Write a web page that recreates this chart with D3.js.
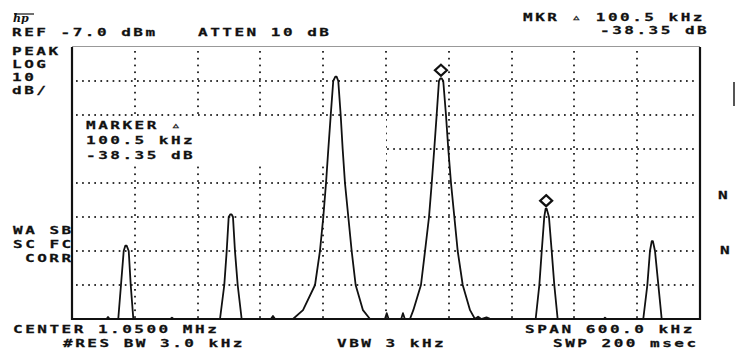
<!DOCTYPE html>
<html lang="en">
  <head>
    <meta charset="UTF-8" />
    <script src="https://cdnjs.cloudflare.com/ajax/libs/d3/7.8.5/d3.min.js"></script>
    <title>Spectrum</title>
    <style>
      body { margin: 0; background: #fff; }
      svg { display: block; }
      .lbl { font-family: 'DejaVu Sans Mono', monospace; font-weight: bold; font-size: 11.3px; fill: #111; stroke: #111; stroke-width: 0.25; }
    </style>
  </head>
  <body>
    <svg width="736" height="352" class="svg"></svg>
    <script>
      // analyser settings
      const refLevel = -7.0;       // dBm
      const dbPerDiv = 10;
      const centerKHz = 1050;
      const spanKHz = 600;
      const rbwKHz = 3.0;
      const vbwKHz = 3;
      const sweepMs = 200;
      const attenDb = 10;
      const markerDeltaKHz = 100.5;
      const markerDeltaDb = -38.35;

      // graticule lines
      const freqTicks = [750, 810, 870, 930, 990, 1050, 1110, 1170, 1230, 1290, 1350];
      const levelTicks = [-7, -17, -27, -37, -47, -57, -67, -77, -87];

      // marker positions [kHz, dBm]
      const markers = [[1102.5, -16.2], [1203.0, -54.55]];

      // trace [kHz, dBm]
      const trace = [
        [750, -87], [783, -87], [784.4, -86.4], [786, -87],
        [794.2, -87], [796.8, -77], [799.4, -67], [801.0, -65.4], [802.2, -65.4], [804.2, -67], [806.1, -77], [808.6, -87],
        [844, -87], [845.5, -86.6], [847, -87],
        [891.4, -87], [895.5, -77], [897.8, -67], [899.7, -57], [901.3, -56.2], [902.5, -56.2], [903.8, -57], [905.7, -67], [908.3, -77], [912.1, -87],
        [940, -87], [942, -86.1], [944, -87],
        [961.1, -87], [970.7, -84.4], [982.2, -77], [986.9, -67], [990.1, -57], [992.7, -47], [994.9, -37], [997.2, -27], [999.6, -17],
        [1001.6, -15.7], [1002.8, -15.7], [1004.4, -17], [1006.7, -27], [1008.6, -37], [1010.8, -47], [1014.0, -57], [1017.2, -67], [1021.0, -77], [1028.0, -84.4], [1034.7, -87],
        [1049, -87], [1050.7, -85.3], [1052.5, -87],
        [1064.5, -87], [1066.2, -85.3], [1068, -87],
        [1072.9, -87], [1076.1, -84.4], [1083.4, -77], [1087.3, -67], [1091.1, -57], [1093.7, -47], [1096.1, -37], [1098.4, -27], [1100.6, -17],
        [1101.9, -16.2], [1103.1, -16.2], [1104.7, -17], [1107.3, -27], [1109.5, -37], [1112.1, -47], [1115.3, -57], [1118.5, -67], [1123.3, -77], [1130.3, -84.4], [1135.0, -87],
        [1138, -86.3], [1141, -87], [1146, -86.5], [1150, -87],
        [1193.0, -87], [1196.5, -77], [1198.8, -67], [1201.2, -57], [1202.5, -54.55], [1203.5, -54.55], [1205.7, -57], [1208.3, -67], [1210.8, -77], [1214.0, -87],
        [1258, -87], [1259.2, -86.6], [1260.5, -87],
        [1295.8, -87], [1299.7, -77], [1302.2, -67], [1303.9, -64.1], [1305.0, -64.1], [1307.0, -67], [1310.2, -77], [1313.4, -87],
        [1350, -87]
      ];

      const svg = d3.select('.svg');
      const pLeft = 72, pRight = 700, pTop = 47, pBottom = 319;

      const x = d3.scaleLinear()
        .domain([centerKHz - spanKHz / 2, centerKHz + spanKHz / 2])
        .range([pLeft, pRight]);
      const y = d3.scaleLinear()
        .domain([refLevel - 8 * dbPerDiv, refLevel])
        .range([pBottom, pTop]);

      // dotted graticule, drawn as little square dots
      const dot = 1.7;
      const grid = svg.append('g').attr('fill', '#111');
      const vCols = grid.selectAll('.vg')
        .data(freqTicks.slice(1, -1))
        .enter()
        .append('g')
        .attr('class', 'vg')
        .attr('transform', d => `translate(${Math.round(x(d)) - dot / 2},0)`);
      vCols.selectAll('rect')
        .data(d3.range(pTop + 4, pBottom - 2, 6.8))
        .enter()
        .append('rect')
        .attr('x', 0).attr('y', d => d)
        .attr('width', dot).attr('height', dot);
      const hRows = grid.selectAll('.hg')
        .data(levelTicks.slice(1, -1))
        .enter()
        .append('g')
        .attr('class', 'hg')
        .attr('transform', d => `translate(0,${Math.round(y(d)) - dot / 2})`);
      hRows.selectAll('rect')
        .data(d3.range(pLeft + 4, pRight - 2, 6.1))
        .enter()
        .append('rect')
        .attr('x', d => d).attr('y', 0)
        .attr('width', dot).attr('height', dot);

      // annotation block blanks the graticule
      svg.append('rect')
        .attr('x', pLeft + 1).attr('y', 116)
        .attr('width', 385 - pLeft).attr('height', 48)
        .attr('fill', '#fff');

      // frame
      svg.append('line').attr('x1', pLeft).attr('x2', pRight).attr('y1', pTop - 0.5).attr('y2', pTop - 0.5)
        .attr('stroke', '#999').attr('stroke-width', 1);
      svg.append('path')
        .attr('d', `M${pLeft},${pTop} V${pBottom} H${pRight} V${pTop}`)
        .attr('fill', 'none').attr('stroke', '#111').attr('stroke-width', 2.2);

      // trace
      const line = d3.line().x(d => x(d[0])).y(d => y(d[1]));
      svg.append('path')
        .datum(trace)
        .attr('d', line)
        .attr('fill', 'none')
        .attr('stroke', '#111')
        .attr('stroke-width', 1.8)
        .attr('stroke-linejoin', 'round');

      // diamond markers
      svg.selectAll('.mk')
        .data(markers)
        .enter()
        .append('path')
        .attr('class', 'mk')
        .attr('transform', d => `translate(${x(d[0])},${y(d[1]) - 8})`)
        .attr('d', 'M0,-5.5 L6,0 L0,5.5 L-6,0 Z')
        .attr('fill', '#fff')
        .attr('stroke', '#111')
        .attr('stroke-width', 2.2);

      // text, HP style wide mono
      const sx = 1.42;
      function label(t, px, py) {
        svg.append('text')
          .attr('class', 'lbl')
          .attr('transform', `translate(${px},${py}) scale(${sx},1)`)
          .attr('letter-spacing', 1.75)
          .text(t);
      }
      const tri = '\u25B5';
      label(`REF ${refLevel.toFixed(1)} dBm`, 12, 36);
      label(`ATTEN ${attenDb} dB`, 198, 36);
      label(`MKR ${tri} ${markerDeltaKHz.toFixed(1)} kHz`, 523, 21);
      label(`${markerDeltaDb.toFixed(2)} dB`, 600, 33.5);
      label('PEAK', 12, 55);
      label('LOG', 12, 67.5);
      label(`${dbPerDiv}`, 12, 80.5);
      label('dB/', 12, 93.5);
      label(`MARKER ${tri}`, 86, 129);
      label(`${markerDeltaKHz.toFixed(1)} kHz`, 86, 143.5);
      label(`${markerDeltaDb.toFixed(2)} dB`, 86, 159);
      label('WA SB', 13, 234);
      label('SC FC', 13, 248);
      label('CORR', 25, 262);
      label(`CENTER ${(centerKHz / 1000).toFixed(4)} MHz`, 13, 333);
      label(`#RES BW ${rbwKHz.toFixed(1)} kHz`, 63, 347);
      label(`VBW ${vbwKHz} kHz`, 337, 346.5);
      label(`SPAN ${spanKHz.toFixed(1)} kHz`, 525, 333);
      label(`SWP ${sweepMs} msec`, 553, 347);

      // hp logo
      svg.append('text')
        .attr('x', 13).attr('y', 22)
        .attr('font-family', 'DejaVu Serif')
        .attr('font-style', 'italic')
        .attr('font-weight', 'bold')
        .attr('font-size', 11)
        .attr('fill', '#111')
        .text('hp');
      svg.append('line').attr('x1', 14).attr('x2', 34).attr('y1', 14).attr('y2', 14)
        .attr('stroke', '#111').attr('stroke-width', 1.2);

      // bits of the next page at the right edge
      label('N', 718, 199);
      label('N', 720, 254);
      svg.append('line').attr('x1', 734).attr('x2', 734).attr('y1', 82).attr('y2', 106)
        .attr('stroke', '#555').attr('stroke-width', 2);
    </script>
  </body>
</html>
